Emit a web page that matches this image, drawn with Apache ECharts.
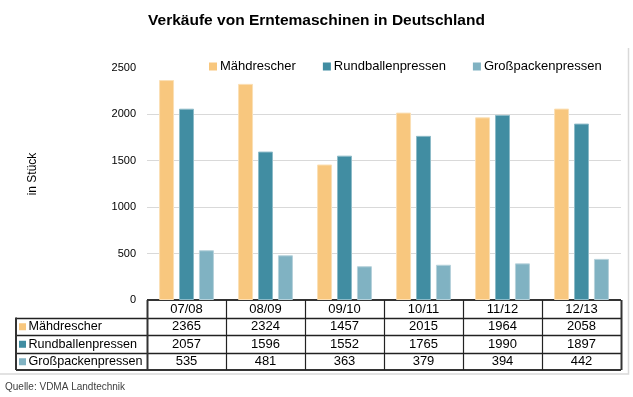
<!DOCTYPE html>
<html>
<head>
<meta charset="utf-8">
<script src="https://cdn.jsdelivr.net/npm/echarts@6/dist/echarts.min.js"></script>
<style>
html,body{margin:0;padding:0;background:#fff;}
#chart{width:633px;height:397px;}
</style>
</head>
<body>
<div id="chart"></div>
<script>
var title = 'Verkäufe von Erntemaschinen in Deutschland';
var categories = ['07/08', '08/09', '09/10', '10/11', '11/12', '12/13'];
var seriesNames = ['Mähdrescher', 'Rundballenpressen', 'Großpackenpressen'];
var maehdrescher = [2365, 2324, 1457, 2015, 1964, 2058];
var rundballenpressen = [2057, 1596, 1552, 1765, 1990, 1897];
var grosspackenpressen = [535, 481, 363, 379, 394, 442];
var yTicks = [0, 500, 1000, 1500, 2000, 2500];
var yAxisName = 'in Stück';
var sourceText = 'Quelle: VDMA Landtechnik';

var seriesData = [maehdrescher, rundballenpressen, grosspackenpressen];
var colors = ['#F8C77E', '#418DA2', '#80B2C2'];
var borders = ['#FBE0B6', '#8DBBC8', '#B6D2DB'];
var FONT = 'Arial, "Liberation Sans", sans-serif';

var gridLeft = 147, gridRight = 12, gridTop = 67.5, gridBottom = 97;
var W = 633, H = 397;

var chart = echarts.init(document.getElementById('chart'), null, {renderer: 'canvas'});

var series = seriesNames.map(function (n, i) {
  return {
    name: n,
    type: 'bar',
    data: seriesData[i],
    barWidth: 15,
    barGap: '33%',
    itemStyle: {color: colors[i], borderColor: borders[i], borderWidth: 1},
    animation: false
  };
});

var splitColors = yTicks.map(function (t, i) { return i === yTicks.length - 1 ? 'rgba(0,0,0,0)' : '#D9D9D9'; });

chart.setOption({
  animation: false,
  title: {
    text: title, left: 'center', top: 8,
    textStyle: {fontFamily: FONT, fontSize: 15.5, fontWeight: 'bold', color: '#000'}
  },
  legend: {
    data: seriesNames, left: 204, top: 55, icon: 'rect', itemWidth: 8, itemHeight: 8, itemGap: 27,
    itemStyle: {borderWidth: 0},
    textStyle: {fontFamily: FONT, fontSize: 13, color: '#000', padding: [0, 0, 0, -2]}
  },
  grid: {left: gridLeft, right: gridRight, top: gridTop, bottom: gridBottom, containLabel: false},
  xAxis: {
    type: 'category', data: categories,
    axisLine: {show: false}, axisTick: {show: false}, axisLabel: {show: false}
  },
  yAxis: {
    type: 'value', min: yTicks[0], max: yTicks[yTicks.length - 1], interval: yTicks[1] - yTicks[0],
    axisLine: {show: false}, axisTick: {show: false},
    axisLabel: {fontFamily: FONT, fontSize: 11, color: '#000', margin: 11, formatter: function (v) { return String(v); }},
    splitLine: {lineStyle: {color: splitColors, width: 1}}
  },
  series: series
});

// Build the data table under the plot from the arrays
var g = [];
var x0 = gridLeft, x1 = W - gridRight;
var yTop = H - gridBottom;
var rowH = 17.5;
var labelLeft = 16;
var colW = (x1 - x0) / categories.length;
var lineColor = '#222';

// frame (light grey)
g.push({type: 'polyline', shape: {points: [[0, 374], [628.5, 374], [628.5, 48]]}, style: {stroke: '#D9D9D9', lineWidth: 1.5, fill: null}, silent: true});

// header row texts (category labels)
categories.forEach(function (c, i) {
  var cx = chart.convertToPixel({xAxisIndex: 0}, c);
  g.push({type: 'text', x: cx, y: yTop + rowH / 2 + 0.5, style: {text: c, fontFamily: FONT, fontSize: 13, fill: '#000', align: 'center', verticalAlign: 'middle'}});
});
// data rows
seriesNames.forEach(function (n, r) {
  var cy = yTop + rowH * (r + 1) + rowH / 2 + 0.5;
  g.push({type: 'rect', shape: {x: labelLeft + 3, y: cy - 3.5, width: 7, height: 7}, style: {fill: colors[r]}});
  g.push({type: 'text', x: labelLeft + 12.5, y: cy, style: {text: n, fontFamily: FONT, fontSize: 12.6, fill: '#000', align: 'left', verticalAlign: 'middle'}});
  seriesData[r].forEach(function (v, i) {
    var cx = chart.convertToPixel({xAxisIndex: 0}, categories[i]);
    g.push({type: 'text', x: cx, y: cy, style: {text: String(v), fontFamily: FONT, fontSize: 13, fill: '#000', align: 'center', verticalAlign: 'middle'}});
  });
});
// horizontal lines
var yBottom = yTop + rowH * (seriesNames.length + 1);
g.push({type: 'line', shape: {x1: x0, y1: yTop, x2: x1, y2: yTop}, style: {stroke: '#333', lineWidth: 2}});
for (var r = 1; r <= seriesNames.length; r++) {
  var yy = Math.round(yTop + rowH * r) + 0.5;
  g.push({type: 'line', shape: {x1: labelLeft, y1: yy, x2: x1, y2: yy}, style: {stroke: lineColor, lineWidth: 1.5}});
}
g.push({type: 'line', shape: {x1: labelLeft, y1: yBottom, x2: x1, y2: yBottom}, style: {stroke: '#333', lineWidth: 2}});
// vertical lines
for (var c = 0; c <= categories.length; c++) {
  var xx = Math.round(x0 + colW * c) + 0.5;
  g.push({type: 'line', shape: {x1: xx, y1: yTop, x2: xx, y2: yBottom}, style: {stroke: (c === 0 || c === categories.length) ? '#333' : lineColor, lineWidth: (c === 0 || c === categories.length) ? 2 : 1.2}});
}
g.push({type: 'line', shape: {x1: labelLeft, y1: yTop + rowH, x2: labelLeft, y2: yBottom}, style: {stroke: '#333', lineWidth: 2}});

// y-axis name
g.push({type: 'text', x: 33, y: 174, rotation: Math.PI / 2, style: {text: yAxisName, fontFamily: FONT, fontSize: 12, fill: '#000', align: 'center', verticalAlign: 'middle'}});
// source
g.push({type: 'text', x: 5, y: 387, style: {text: sourceText, fontFamily: FONT, fontSize: 10, fill: '#404040', align: 'left', verticalAlign: 'middle'}});

chart.setOption({graphic: {elements: g}});
</script>
</body>
</html>
